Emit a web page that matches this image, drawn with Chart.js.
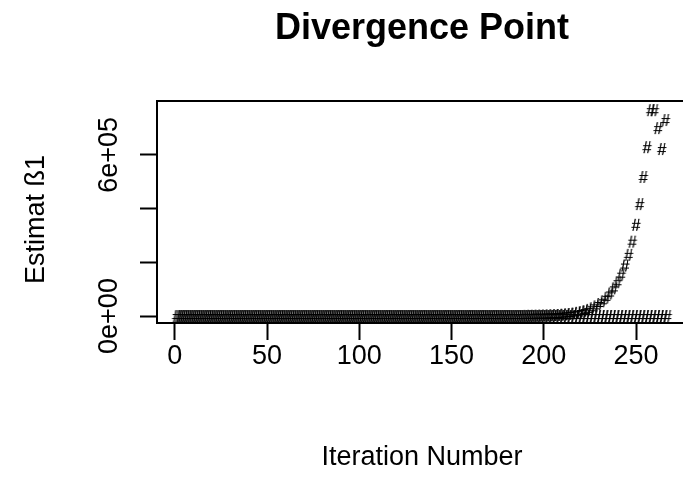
<!DOCTYPE html>
<html>
<head>
<meta charset="utf-8">
<title>Divergence Point</title>
<script src="https://cdn.jsdelivr.net/npm/chart.js@4.4.0/dist/chart.umd.min.js"></script>
<style>
    html, body { margin: 0; padding: 0; background: #fff; overflow: hidden; }
    #wrap { width: 683px; height: 477px; overflow: hidden; }
</style>
</head>
<body>
<div id="wrap"><canvas id="divChart" width="700" height="477" style="width:700px;height:477px"></canvas></div>
<script>
/**
 * Divergence trace - two estimates logged alternately per iteration
 */

// Odd iterations 1, 3, ..., 267 (stays at ~0)
const trace0 = [
    0,0,0,0,0,0,0,0,0,0,0,0,0,0,0,0,0,0,0,0,
    0,0,0,0,0,0,0,0,0,0,0,0,0,0,0,0,0,0,0,0,
    0,0,0,0,0,0,0,0,0,0,0,0,0,0,0,0,0,0,0,0,
    0,0,0,0,0,0,0,0,0,0,0,0,0,0,0,0,0,0,0,0,
    0,0,0,0,0,0,0,0,0,0,0,0,0,0,0,0,0,0,0,0,
    0,0,0,0,0,0,0,0,0,0,0,0,0,0,0,0,0,0,0,0,
    0,0,0,0,0,0,0,0,0,0,0,0,0,0
];

// Even iterations 2, 4, ..., 266 (blows up after ~200)
const trace1 = [
    0,0,0,0,0,0,0,0,0,0,0,0,0,0,0,0,0,0,0,0,
    0,0,0,0,0,0,0,0,0,0,0,0,0,0,0,0,0,0,0,0,
    0,0,0,0,0,0,0,0,0,0,0,0,0,0,0,0,0,0,0,0,
    0,0,0,0,0,0,0,0,0,0,0,0,0,0,0,0,0,0,0,0,
    0,0,0,0,0,0,0,0,0,0,0,0,0,0,
    600, 700, 900, 1100, 1300,
    1700, 2100, 2600, 3200, 4000,
    5000, 6200, 7700, 9600, 12000,
    15000, 18500, 23000, 29000, 36000,
    45000, 55000, 68000, 84000, 103000,
    126000, 154000, 188000, 228000, 277000,
    340000, 417000, 518000, 629000, 767000,
    767000, 700000, 622000, 730000
];

const xTicks = [0, 50, 100, 150, 200, 250];
const yTicks = [0, 200000, 400000, 600000];
const yTickLabels = ['0e+00', '', '', '6e+05'];

const FONT = '"Liberation Sans", Arial, Helvetica, sans-serif';

// R style pch = "#" marker
function hashGlyph() {
    const c = document.createElement('canvas');
    c.width = 18;
    c.height = 18;
    const g = c.getContext('2d');
    g.fillStyle = '#000';
    g.font = '16px ' + FONT;
    g.textAlign = 'center';
    g.textBaseline = 'alphabetic';
    // twice, so the thin strokes come out solid black like the png
    g.fillText('#', 9, 9 + 0.36 * 16);
    g.fillText('#', 9, 9 + 0.36 * 16);
    return c;
}

// Box round the plot region
const boxPlugin = {
    id: 'plotBox',
    afterDraw(chart) {
        const { ctx, chartArea: a } = chart;
        ctx.save();
        ctx.strokeStyle = '#000';
        ctx.lineWidth = 2;
        ctx.strokeRect(a.left, a.top, a.right - a.left, a.bottom - a.top);
        ctx.restore();
    }
};

const glyph = hashGlyph();
const points0 = trace0.map((v, i) => ({ x: 2 * i + 1, y: v }));
const points1 = trace1.map((v, i) => ({ x: 2 * i + 2, y: v }));

const tickGrid = {
    drawOnChartArea: false,
    drawTicks: true,
    tickLength: 17,
    tickWidth: 2,
    tickColor: '#000'
};

new Chart(document.getElementById('divChart'), {
    type: 'scatter',
    data: {
        datasets: [
            { data: points0, pointStyle: glyph, pointRadius: 4, showLine: false },
            { data: points1, pointStyle: glyph, pointRadius: 4, showLine: false }
        ]
    },
    options: {
        responsive: false,
        animation: false,
        layout: { padding: { left: 0, right: 13, top: 0, bottom: 0 } },
        plugins: {
            legend: { display: false },
            tooltip: { enabled: false },
            title: {
                display: true,
                text: 'Divergence Point',
                fullSize: false,
                color: '#000',
                font: { family: FONT, size: 36, weight: 'bold', lineHeight: 1.2 },
                padding: { top: 7, bottom: 50.8 }
            }
        },
        scales: {
            x: {
                type: 'linear',
                min: -9.64,
                max: 277.64,
                afterBuildTicks: s => { s.ticks = xTicks.map(v => ({ value: v })); },
                afterFit: s => { s.height = 154; },
                border: { display: false },
                grid: tickGrid,
                ticks: {
                    color: '#000',
                    autoSkip: false,
                    maxRotation: 0,
                    padding: 0,
                    font: { family: FONT, size: 27 }
                },
                title: {
                    display: true,
                    text: 'Iteration Number',
                    color: '#000',
                    font: { family: FONT, size: 27, lineHeight: 1.2 },
                    padding: { top: 0, bottom: 3 }
                }
            },
            y: {
                type: 'linear',
                min: -26000,
                max: 801000,
                afterBuildTicks: s => { s.ticks = yTicks.map(v => ({ value: v })); },
                afterFit: s => { s.width = 157; },
                border: { display: false },
                grid: tickGrid,
                ticks: {
                    color: '#000',
                    autoSkip: false,
                    minRotation: 90,
                    maxRotation: 90,
                    crossAlign: 'center',
                    padding: -7,
                    font: { family: FONT, size: 27 },
                    callback: (value, index) => yTickLabels[index]
                },
                title: {
                    display: true,
                    text: 'Estimat ß1\u00a0\u00a0',
                    color: '#000',
                    font: { family: FONT, size: 27, lineHeight: 1.2 },
                    padding: { top: 20, bottom: 0 }
                }
            }
        }
    },
    plugins: [boxPlugin]
});
</script>
</body>
</html>
